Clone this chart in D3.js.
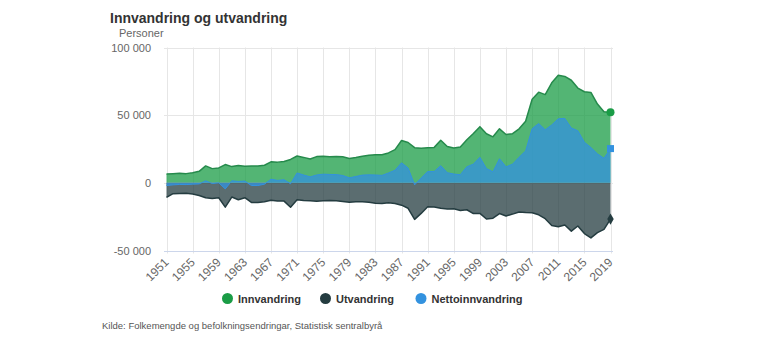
<!DOCTYPE html>
<html>
<head>
<meta charset="utf-8">
<script src="https://cdn.jsdelivr.net/npm/d3@7"></script>
<style>
  body { margin: 0; background: #fff; }
  svg { font-family: "Liberation Sans", Arial, sans-serif; display: block; }
</style>
</head>
<body>
<svg id="chart"></svg>
<script>
// Data (persons per year)
const years = d3.range(1951, 2020);

const innvandring = [
  6500, 6800, 7000, 6800, 7500, 8500, 12500, 10500, 11000, 13500,
  12000, 12800, 12300, 12500, 12500, 13000, 15500, 15300, 15800, 17300,
  19800, 18800, 17600, 19400, 19700, 19200, 19400, 19200, 18000, 18700,
  19700, 20300, 20800, 20700, 22100, 24500, 31300, 29800, 26000, 25500,
  26000, 26200, 31500, 26800, 25700, 26400, 31800, 36500, 41500, 36300,
  34000, 39900, 35700, 36300, 39900, 45500, 61800, 67000, 65200, 73900,
  79500, 78600, 75800, 70000, 67300, 66800, 58200, 52500, 52200
];

const utvandring = [
  -10800, -8000, -7800, -7700, -8300, -9300, -11000, -11500, -11000, -18000,
  -10500, -12500, -11000, -14500, -14500, -14000, -12800, -13500, -13500, -18000,
  -12500, -13000, -13200, -13600, -13300, -13000, -13300, -13800, -14300, -14000,
  -14000, -14400, -15000, -15200, -14800, -15200, -16500, -18800, -27000, -22600,
  -17700, -17800, -18800, -19300, -19200, -20400, -19900, -22700, -22600, -26700,
  -26100, -22700, -24500, -23100, -21500, -21900, -22100, -23600, -26500, -31500,
  -32500, -31200, -35700, -31900, -37500, -40700, -36800, -34400, -26800
];

const nettoinnvandring = [
  -2000, -1500, -1200, -1300, -1000, -800, 1500, -500, 0, -4500,
  1500, 1000, 1300, -2000, -2000, -1000, 2700, 1800, 2300, -700,
  7300, 5800, 4400, 5800, 6400, 6200, 6100, 5400, 3700, 4700,
  5700, 5900, 5800, 5500, 7300, 9300, 14800, 11000, -1500, 3500,
  8300, 8400, 12700, 7500, 6500, 6000, 11900, 13800, 18900, 10500,
  8200, 17800, 11800, 13800, 18900, 23600, 40000, 43800, 39200, 42800,
  47300, 47600, 40500, 38500, 30000, 26100, 21400, 18100, 25300
];

const xTicks = [1951, 1955, 1959, 1963, 1967, 1971, 1975, 1979, 1983, 1987,
                1991, 1995, 1999, 2003, 2007, 2011, 2015, 2019];
const yTicks = [-50000, 0, 50000, 100000];

const seriesNames = ["Innvandring", "Utvandring", "Nettoinnvandring"];
const seriesColors = ["#1a9c46", "#243c40", "#3392df"];
const lineColors = ["#268a4c", "#243c40", "#3392df"];

// Set up SVG
const width = 762;
const height = 339;
const svg = d3.select("#chart").attr("width", width).attr("height", height);

const plotLeft = 164, plotRight = 613;
const x = d3.scaleLinear().domain([1951, 2019]).range([166.5, 610.5]);
const y = d3.scaleLinear().domain([-50000, 100000]).range([250.5, 47.5]);

const fmt = d3.formatLocale({ decimal: ",", thousands: " ", grouping: [3], currency: ["", ""], minus: "-" }).format(",");

// Grid lines
const grid = svg.append("g").attr("class", "grid");
grid.selectAll(".hgrid")
    .data(yTicks.filter(d => d !== -50000))
    .enter().append("line")
    .attr("x1", plotLeft).attr("x2", plotRight)
    .attr("y1", d => Math.round(y(d)) + 0.5).attr("y2", d => Math.round(y(d)) + 0.5)
    .attr("stroke", "#e6e6e6");
grid.selectAll(".vgrid")
    .data(xTicks)
    .enter().append("line")
    .attr("x1", d => Math.round(x(d)) + 0.5).attr("x2", d => Math.round(x(d)) + 0.5)
    .attr("y1", y(100000)).attr("y2", y(-50000) + 3)
    .attr("stroke", "#e6e6e6");
// x axis line at bottom
svg.append("line")
    .attr("x1", plotLeft).attr("x2", plotRight)
    .attr("y1", Math.round(y(-50000)) + 0.5).attr("y2", Math.round(y(-50000)) + 0.5)
    .attr("stroke", "#ccd6eb");

// Areas
const allSeries = [innvandring, utvandring, nettoinnvandring];
const areaGen = d3.area()
    .x((d, i) => x(years[i]))
    .y0(y(0))
    .y1(d => y(d));
const lineGen = d3.line()
    .x((d, i) => x(years[i]))
    .y(d => y(d));

const seriesGroup = svg.append("g").attr("class", "series");
allSeries.forEach((vals, k) => {
    seriesGroup.append("path")
        .datum(vals)
        .attr("d", areaGen)
        .attr("fill", seriesColors[k])
        .attr("fill-opacity", 0.75);
    seriesGroup.append("path")
        .datum(vals)
        .attr("d", lineGen)
        .attr("fill", "none")
        .attr("stroke", lineColors[k])
        .attr("stroke-width", k === 2 ? 1 : 1.5)
        .attr("stroke-linejoin", "round");
});

// End markers (last point)
const last = years.length - 1;
const lx = x(years[last]);
seriesGroup.append("circle")
    .attr("cx", lx).attr("cy", y(innvandring[last])).attr("r", 4)
    .attr("fill", seriesColors[0]);
seriesGroup.append("path")
    .attr("d", d3.symbol().type(d3.symbolDiamond).size(36)())
    .attr("transform", `translate(${lx},${y(utvandring[last])})`)
    .attr("fill", seriesColors[1]);
seriesGroup.append("rect")
    .attr("x", lx - 3.5).attr("y", y(nettoinnvandring[last]) - 3.5)
    .attr("width", 7).attr("height", 7)
    .attr("fill", seriesColors[2]);

// Y axis labels
svg.selectAll(".ylabel")
    .data(yTicks)
    .enter().append("text")
    .attr("x", 151)
    .attr("y", d => y(d) + 4)
    .attr("text-anchor", "end")
    .attr("font-size", 11)
    .attr("fill", "#666")
    .text(d => fmt(d));

// X axis labels (rotated)
svg.selectAll(".xlabel")
    .data(xTicks)
    .enter().append("text")
    .attr("transform", d => `translate(${x(d) + 3},${263}) rotate(-45)`)
    .attr("text-anchor", "end")
    .attr("font-size", 12)
    .attr("fill", "#666")
    .text(d => d);

// Titles
svg.append("text")
    .attr("x", 110).attr("y", 23)
    .attr("font-size", 14).attr("font-weight", "bold")
    .attr("fill", "#333")
    .text("Innvandring og utvandring");
svg.append("text")
    .attr("x", 119).attr("y", 37)
    .attr("font-size", 11)
    .attr("fill", "#666")
    .text("Personer");

// Legend
const legendX = [227.5, 325.5, 421];
const legend = svg.append("g").attr("class", "legend");
seriesNames.forEach((name, k) => {
    legend.append("circle")
        .attr("cx", legendX[k]).attr("cy", 298.5).attr("r", 5.5)
        .attr("fill", seriesColors[k]);
    legend.append("text")
        .attr("x", legendX[k] + 10.5).attr("y", 302.5)
        .attr("font-size", 11).attr("font-weight", "bold")
        .attr("fill", "#333")
        .text(name);
});

// Source
svg.append("text")
    .attr("x", 102).attr("y", 328.5)
    .attr("font-size", 9.5)
    .attr("fill", "#555")
    .text("Kilde: Folkemengde og befolkningsendringar, Statistisk sentralbyrå");
</script>
</body>
</html>
